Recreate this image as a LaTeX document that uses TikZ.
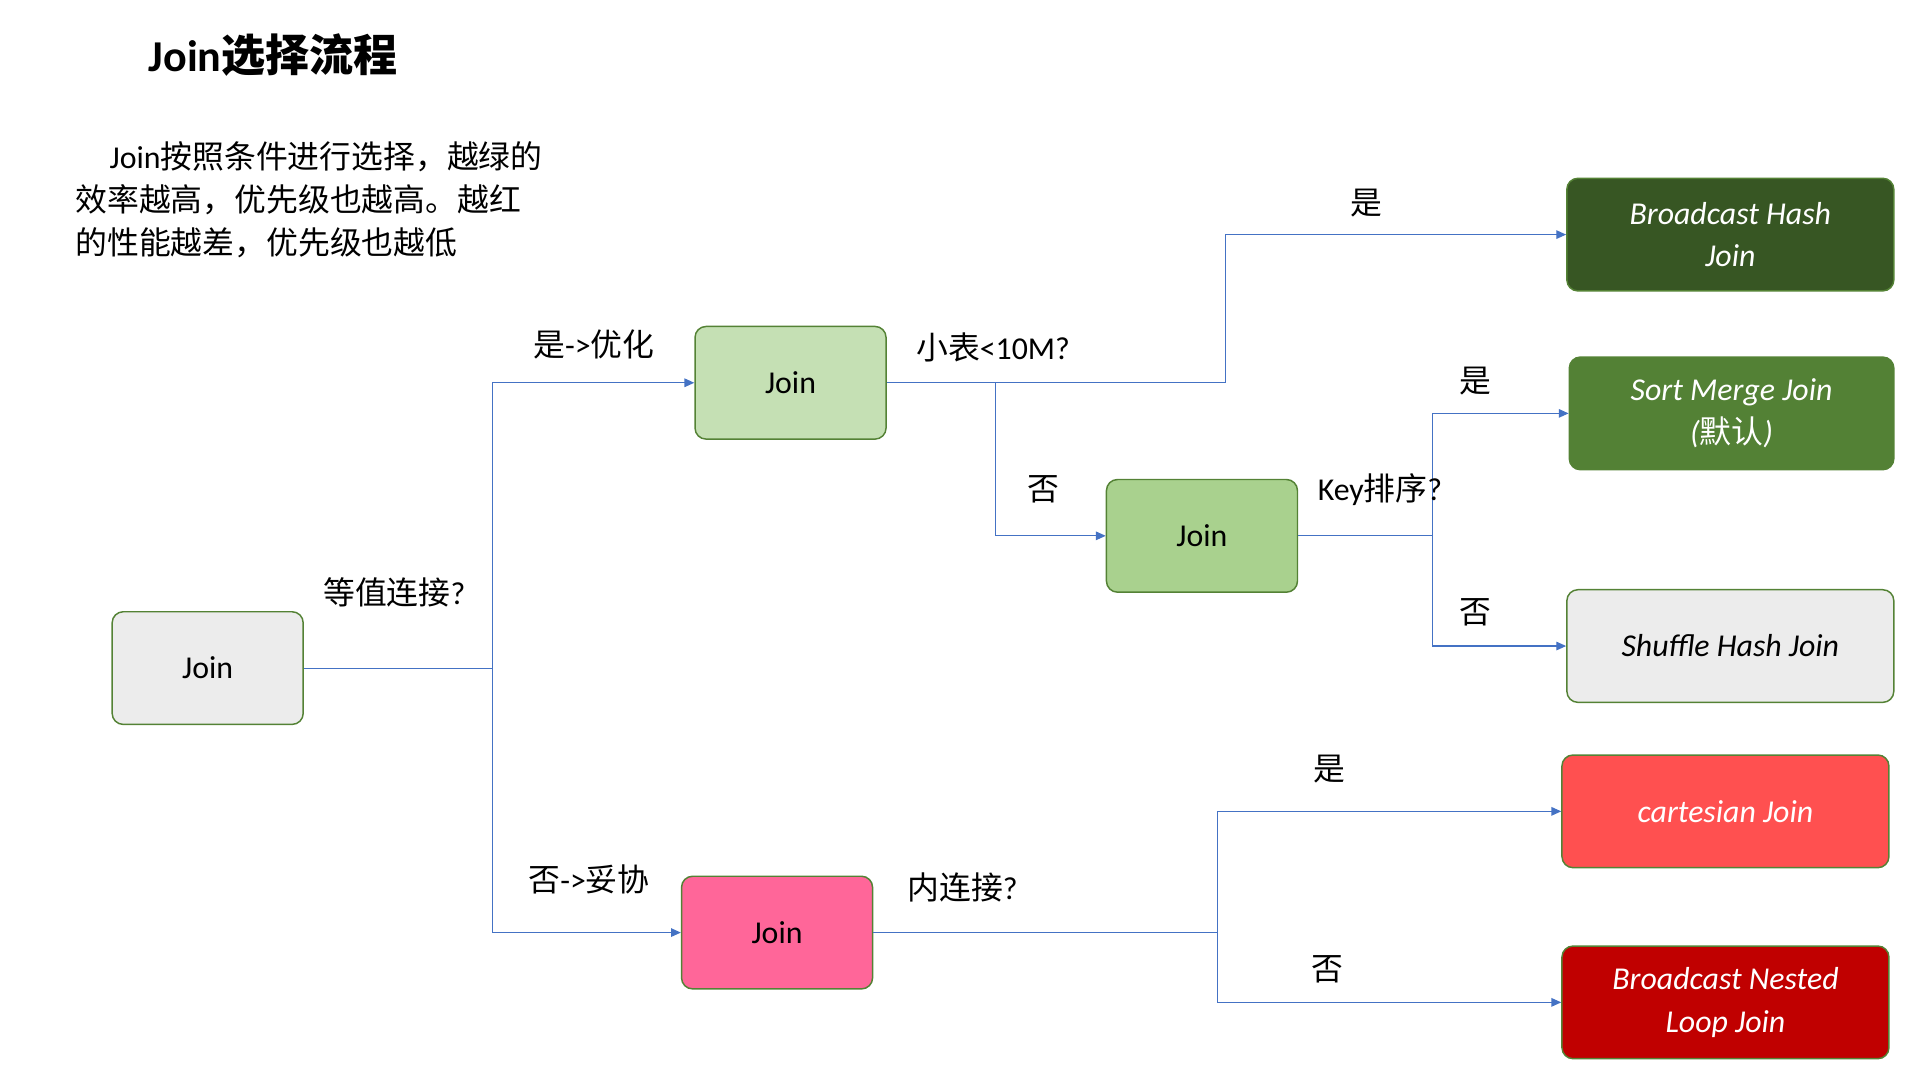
\documentclass[tikz,border=0pt]{standalone}
\usepackage{fontspec}
\setmainfont{Carlito}
\newfontfamily\cjk{Noto Sans CJK SC}
\usetikzlibrary{arrows.meta}
\definecolor{bl}{HTML}{4472C4}
\definecolor{gb}{HTML}{548235}
\begin{document}
\begin{tikzpicture}[x=1pt,y=-1pt,
 box/.style={draw=gb,line width=1.2pt,rounded corners=9pt,minimum width=156pt,minimum height=92pt,font=\fontsize{26}{30}\selectfont,align=center,anchor=north west},
 rbox/.style={box,minimum width=267pt,text=white,font=\fontsize{26}{35}\selectfont\itshape},
 con/.style={draw=bl,line width=0.9pt,-{Triangle[length=8pt,width=7pt]}},
 lbl/.style={font=\fontsize{26}{30}\selectfont}]
\useasboundingbox (0,0) rectangle (1568,882);
\node[font=\fontsize{36}{40}\selectfont\bfseries,anchor=west] (t) at (118,45) {Join\cjk 选择流程};
\node[font=\fontsize{26}{35}\selectfont,anchor=north west,align=left] (p) at (58,112) {\hspace{28pt}Join{\cjk 按照条件进行选择，越绿的}\\{\cjk 效率越高，优先级也越高。越红}\\{\cjk 的性能越差，优先级也越低}};
\node[box,fill=gray!15] (a) at (91,499) {Join};
\node[box,fill=green!20!white,fill={rgb,255:red,197;green,224;blue,180}] (b) at (567,266) {Join};
\node[box,fill={rgb,255:red,169;green,209;blue,142}] (c) at (903,391) {Join};
\node[box,fill={rgb,255:red,255;green,102;blue,153}] (d) at (556,715) {Join};
\node[rbox,fill={rgb,255:red,55;green,86;blue,35}] (r1) at (1279,145) {Broadcast Hash\\Join};
\node[rbox,minimum width=265pt,fill={rgb,255:red,83;green,129;blue,53}] (r2) at (1281,291) {Sort Merge Join\\({\cjk 默认})};
\node[rbox,fill=gray!15,text=black] (r3) at (1279,481) {Shuffle Hash Join};
\node[rbox,fill={rgb,255:red,255;green,80;blue,80}] (r4) at (1275,616) {cartesian Join};
\node[rbox,fill={rgb,255:red,192;green,0;blue,0}] (r5) at (1275,772) {Broadcast Nested\\Loop Join};
\coordinate (ja) at (402,0);
\coordinate (jb) at (1001,0);
\coordinate (jb2) at (813,0);
\coordinate (jc) at (1170,0);
\coordinate (jd) at (994,0);
\draw[con] (a.east) -- (a.east -| ja) |- (b.west);
\draw[con] (a.east -| ja) |- (d.west);
\draw[con] (b.east) -- (b.east -| jb) |- (r1.west);
\draw[con] (b.east -| jb2) |- (c.west);
\draw[con] (c.east) -- (c.east -| jc) |- (r2.west);
\draw[con] (c.east -| jc) |- (r3.west);
\draw[con] (d.east) -- (d.east -| jd) |- (r4.west);
\draw[con] (d.east -| jd) |- (r5.west);
\node[lbl] (l1) at (322,484) {{\cjk 等值连接}?};
\node[lbl] (l2) at (485,281) {{\cjk 是}->{\cjk 优化}};
\node[lbl] (l3) at (481,718) {{\cjk 否}->{\cjk 妥协}};
\node[lbl] (l4) at (811,284) {{\cjk 小表}<10M?};
\node[lbl] (l5) at (852,400) {\cjk 否};
\node[lbl] (l6) at (1116,166) {\cjk 是};
\node[lbl] (l7) at (1127,400) {Key{\cjk 排序}?};
\node[lbl] (l8) at (1205,311) {\cjk 是};
\node[lbl] (l9) at (1205,500) {\cjk 否};
\node[lbl] (l10) at (786,725) {{\cjk 内连接}?};
\node[lbl] (l11) at (1086,628) {\cjk 是};
\node[lbl] (l12) at (1084,792) {\cjk 否};
\end{tikzpicture}
\end{document}
